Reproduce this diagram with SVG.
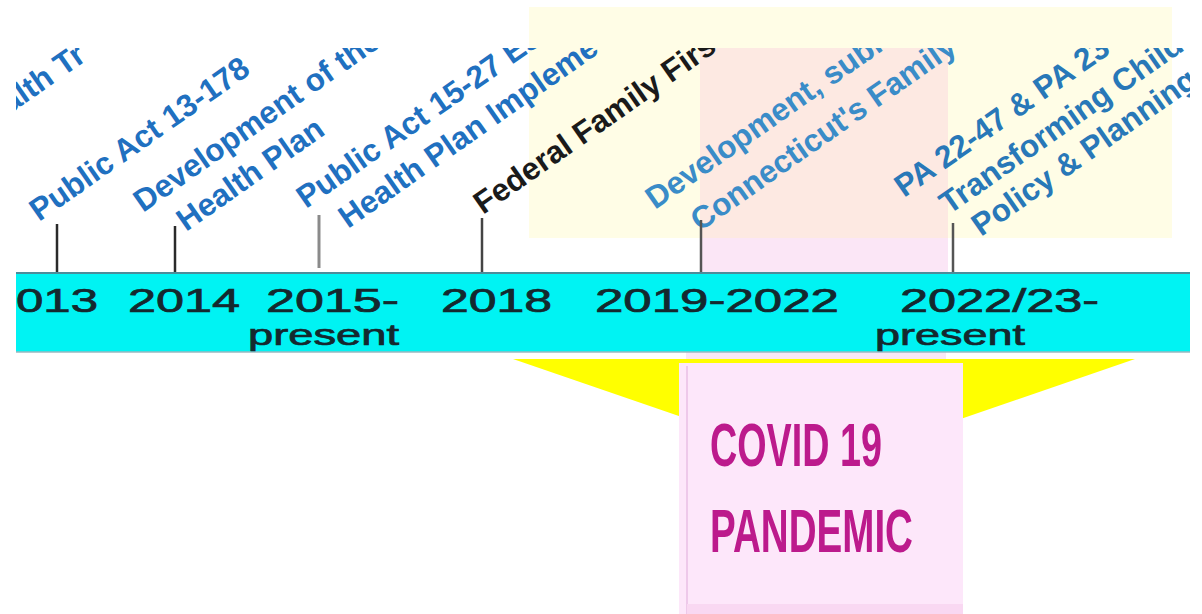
<svg xmlns="http://www.w3.org/2000/svg" width="1202" height="614" viewBox="0 0 1202 614">
  <style>
    .lbl { font-family: "Liberation Sans", Arial, sans-serif; font-weight: bold; font-size: 31.5px; fill: #2070c0; }
    .lbl2 { fill: #3a8cc8; }
    .lbl3 { fill: #2878b8; }
    .blk { fill: #1a1a1a; }
    .yr { font-family: "Liberation Sans", Arial, sans-serif; font-size: 33px; fill: #14282e; stroke: #14282e; stroke-width: 0.7px; }
    .pr { font-size: 30px; }
    .tick { stroke: #2a2a2a; stroke-width: 2.5; fill: none; }
    .covid { font-family: "Liberation Sans", Arial, sans-serif; font-weight: bold; font-size: 62px; fill: #bc1a8c; }
  </style>
  <defs>
    <clipPath id="txtclip">
      <rect x="16" y="48" width="1174" height="224"/>
    </clipPath>
  </defs>

  <rect x="0" y="0" width="1202" height="614" fill="#ffffff"/>

  <!-- background highlight areas -->
  <g id="highlights">
    <rect x="529" y="7" width="643" height="231" fill="#fffde6"/>
    <rect x="700" y="48" width="248" height="190" fill="#fde9e2"/>
    <rect x="700" y="238" width="248" height="34" fill="#fbe6f6"/>
    <rect x="686" y="352" width="260" height="12" fill="#f8e8f6"/>
  </g>

  <!-- event labels -->
  <g clip-path="url(#txtclip)">
    <g id="event-prev">
      <text class="lbl" transform="translate(10 114) rotate(-35)">alth Tr</text>
    </g>
    <g id="event-2013">
      <text class="lbl" transform="translate(39 222) rotate(-35)">Public Act 13-178</text>
    </g>
    <g id="event-2014">
      <text class="lbl" transform="translate(143 213) rotate(-35)">Development of the</text>
      <text class="lbl" transform="translate(186 232) rotate(-35)">Health Plan</text>
    </g>
    <g id="event-2015">
      <text class="lbl" transform="translate(306 209) rotate(-35)">Public Act 15-27 Es</text>
      <text class="lbl" transform="translate(348 229) rotate(-35)">Health Plan Impleme</text>
    </g>
    <g id="event-2018">
      <text class="lbl blk" transform="translate(483 215) rotate(-35)">Federal Family Firs</text>
    </g>
    <g id="event-2019">
      <text class="lbl lbl2" transform="translate(655 210) rotate(-35)">Development, subm</text>
      <text class="lbl lbl2" transform="translate(700 232) rotate(-35)">Connecticut's Family</text>
    </g>
    <g id="event-2022">
      <text class="lbl lbl3" transform="translate(904 198) rotate(-35)">PA 22-47 &amp; PA 23-</text>
      <text class="lbl lbl3" transform="translate(949 215) rotate(-35)">Transforming Childr</text>
      <text class="lbl lbl3" transform="translate(981 237) rotate(-35)">Policy &amp; Planning</text>
    </g>
  </g>

  <!-- connectors: ticks -->
  <g id="connectors">
    <line class="tick" x1="57" y1="224" x2="57" y2="276"/>
    <line class="tick" x1="175" y1="226" x2="175" y2="274"/>
    <line class="tick" x1="319" y1="215" x2="319" y2="268" style="stroke:#8a8a8a;stroke-width:3"/>
    <line class="tick" x1="482" y1="218" x2="482" y2="273" style="stroke:#444"/>
    <line class="tick" x1="701" y1="220" x2="701" y2="272" style="stroke:#555"/>
    <line class="tick" x1="953" y1="223" x2="953" y2="276" style="stroke:#555"/>
  </g>

  <!-- timeline bar -->
  <g id="timeline-bar">
    <rect x="16" y="273" width="1174" height="79" fill="#00f3f3"/>
    <line x1="16" y1="273" x2="1190" y2="273" stroke="#4c8c9a" stroke-width="2"/>
    <line x1="16" y1="352" x2="1190" y2="352" stroke="#9ab8c0" stroke-width="1.5"/>
    <text class="yr" x="16" y="312" textLength="82" lengthAdjust="spacingAndGlyphs">013</text>
    <text class="yr" x="128" y="312" textLength="112" lengthAdjust="spacingAndGlyphs">2014</text>
    <text class="yr" x="266" y="312" textLength="133" lengthAdjust="spacingAndGlyphs">2015-</text>
    <text class="yr pr" x="248" y="345" textLength="151" lengthAdjust="spacingAndGlyphs">present</text>
    <text class="yr" x="441" y="312" textLength="111" lengthAdjust="spacingAndGlyphs">2018</text>
    <text class="yr" x="595" y="312" textLength="244" lengthAdjust="spacingAndGlyphs">2019-2022</text>
    <text class="yr" x="900" y="312" textLength="199" lengthAdjust="spacingAndGlyphs">2022/23-</text>
    <text class="yr pr" x="875" y="345" textLength="150" lengthAdjust="spacingAndGlyphs">present</text>
  </g>

  <!-- callout -->
  <g id="covid-callout">
    <polygon points="513,359 1135,359 824,466" fill="#ffff00"/>
    <rect x="679" y="363" width="284" height="251" fill="#fde7fa"/>
    <line x1="687" y1="366" x2="687" y2="614" stroke="#eec9ea" stroke-width="2"/>
    <rect x="687" y="604" width="276" height="10" fill="#f9d8f2"/>
    <text class="covid" x="710" y="466" textLength="172" lengthAdjust="spacingAndGlyphs">COVID 19</text>
    <text class="covid" x="710" y="552" textLength="203" lengthAdjust="spacingAndGlyphs">PANDEMIC</text>
  </g>
</svg>
